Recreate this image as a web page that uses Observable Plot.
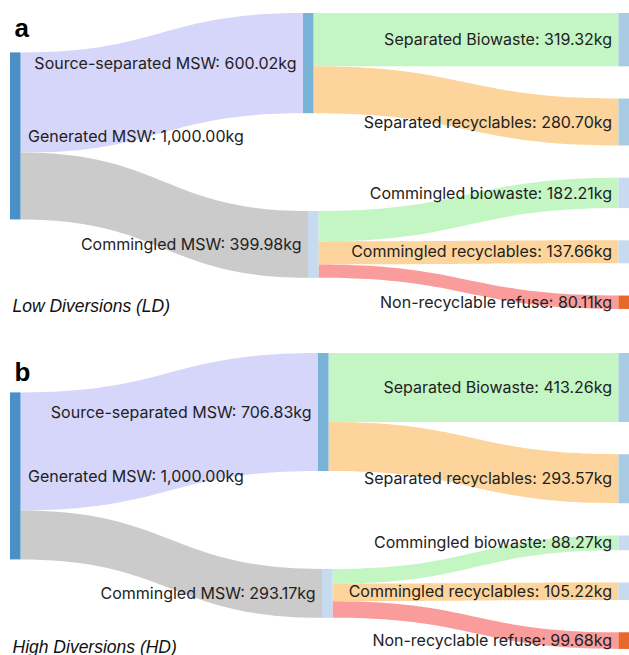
<!DOCTYPE html>
<html><head><meta charset="utf-8">
<script src="https://cdn.jsdelivr.net/npm/d3@7"></script>
<script src="https://cdn.jsdelivr.net/npm/@observablehq/plot@0.6"></script>
<style>body{margin:0;background:#fff} #chart svg{display:block}</style>
</head><body><div id="chart"></div>
<script>
// ---- data ----
const nodeNames = ["Generated MSW","Source-separated MSW","Commingled MSW","Separated Biowaste","Separated recyclables","Commingled biowaste","Commingled recyclables","Non-recyclable refuse"];
const nodeColumn = [0,1,1,2,2,2,2,2];
const linkSource = [0,0,1,1,2,2,2];
const linkTarget = [1,2,3,4,5,6,7];
const valuesLD = [600.02, 399.98, 319.32, 280.70, 182.21, 137.66, 80.11];
const valuesHD = [706.83, 293.17, 413.26, 293.57, 88.27, 105.22, 99.68];
const panelLetters = ["a","b"];
const panelTitles = ["Low Diversions (LD)","High Diversions (HD)"];

// ---- styles ----
const nodeColors = ["#4a8fc5","#79b3d8","#c6dbef","#a7cbe3","#a7cbe3","#c6dbef","#c6dbef","#e8682b"];
const linkColors = ["#d6d6fa","#cbcbcb","#c4f6c4","#fdd59c","#c4f6c4","#fdd59c","#fb9c9c"];

// ---- layout parameters ----
const W = 629, pxPerKg = 0.167, plotTop = 13;
const nodeW = 10.5 / 619;
const padRight = 193, padMid = 586, offsetFirst = 236;
const panelLayouts = [
  {height: 340, mid: [0.4733, 0.4814], letterDy: 23, titleDy: -29},
  {height: 315, mid: [0.4976, 0.5040], letterDy: 27, titleDy: -3}
];
const fmt = d3.format(",.2f");

function layout(values, L) {
  const nodes = nodeNames.map((name, i) => ({i, name, col: nodeColumn[i], value: 0, inV: 0, outV: 0}));
  values.forEach((v, k) => { nodes[linkSource[k]].outV += v; nodes[linkTarget[k]].inV += v; });
  nodes.forEach(n => n.value = Math.max(n.inV, n.outV));
  let y = 0;
  nodes.filter(n => n.col === 2).forEach(n => { n.y0 = y; n.y1 = y + n.value; y = n.y1 + padRight; });
  const total = y - padRight;
  const mids = nodes.filter(n => n.col === 1);
  mids[0].y0 = 0; mids[0].y1 = mids[0].value;
  mids[1].y0 = mids[0].y1 + padMid; mids[1].y1 = mids[1].y0 + mids[1].value;
  nodes[0].y0 = offsetFirst; nodes[0].y1 = offsetFirst + nodes[0].value;
  nodes.forEach(n => {
    n.x0 = n.col === 0 ? 0 : n.col === 2 ? 1 - nodeW : L.mid[n.i - 1];
    n.x1 = n.x0 + nodeW;
    n.sy = n.y0; n.ty = n.y0;
  });
  const rows = [];
  values.forEach((v, k) => {
    const s = nodes[linkSource[k]], t = nodes[linkTarget[k]];
    rows.push({link: k, x: s.x1, y1: s.sy, y2: s.sy + v, fill: linkColors[k]});
    rows.push({link: k, x: t.x0, y1: t.ty, y2: t.ty + v, fill: linkColors[k]});
    s.sy += v; t.ty += v;
  });
  return {nodes, rows, total};
}

const chart = document.getElementById("chart");
[valuesLD, valuesHD].forEach((values, p) => {
  const L = panelLayouts[p];
  const {nodes, rows, total} = layout(values, L);
  const label = n => `${n.name}: ${fmt(n.value)}kg`;
  const svg = Plot.plot({
    width: W, height: L.height,
    marginLeft: 10, marginRight: 0, marginTop: plotTop, marginBottom: 0,
    style: {fontFamily: "Inter, sans-serif", fontSize: "16px", color: "#222", background: "#fff"},
    x: {domain: [0, 1], range: [10, W], axis: null},
    y: {domain: [0, total], range: [plotTop, plotTop + total * pxPerKg], axis: null},
    color: {type: "identity"},
    marks: [
      Plot.areaY(rows, {x: "x", y1: "y1", y2: "y2", z: "link", fill: "fill", curve: "bump-x"}),
      Plot.rect(nodes, {x1: "x0", x2: "x1", y1: "y0", y2: "y1", fill: n => nodeColors[n.i]}),
      Plot.text(nodes.filter(n => n.col === 0), {x: "x1", y: n => (n.y0 + n.y1) / 2, text: label, textAnchor: "start", dx: 7, fill: "#222"}),
      Plot.text(nodes.filter(n => n.col > 0), {x: "x0", y: n => (n.y0 + n.y1) / 2, text: label, textAnchor: "end", dx: -7, fill: "#222"}),
      Plot.text([panelLetters[p]], {frameAnchor: "top-left", text: d => d, dx: 4, dy: L.letterDy, lineAnchor: "bottom", fontSize: 26, fontWeight: "bold", fontFamily: "Liberation Sans, Arial, sans-serif", fill: "#000"}),
      Plot.text([panelTitles[p]], {frameAnchor: "bottom-left", text: d => d, dx: 2, dy: L.titleDy, lineAnchor: "bottom", fontSize: 17.5, fontStyle: "italic", fontFamily: "Liberation Sans, Arial, sans-serif", fill: "#111"})
    ]
  });
  chart.appendChild(svg);
});
</script>
</body></html>
